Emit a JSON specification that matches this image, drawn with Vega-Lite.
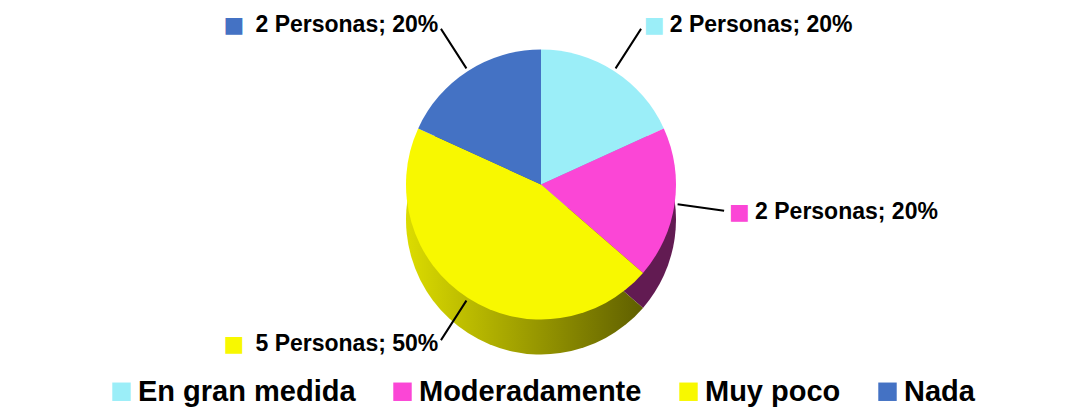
{
  "$schema": "https://vega.github.io/schema/vega-lite/v6.json",
  "width": 1082,
  "height": 407,
  "autosize": {"type": "fit", "contains": "padding"},
  "padding": 0,
  "background": "white",
  "config": {
    "view": {"stroke": null},
    "font": "Liberation Sans",
    "legend": {"layout": {"anchor": "middle", "bottom": {"anchor": "middle"}}}
  },
  "data": {
    "values": [
      {"cat": "En gran medida", "n": 2, "label": "2 Personas; 20%"},
      {"cat": "Moderadamente", "n": 2, "label": "2 Personas; 20%"},
      {"cat": "Muy poco", "n": 5, "label": "5 Personas; 50%"},
      {"cat": "Nada", "n": 2, "label": "2 Personas; 20%"}
    ]
  },
  "encoding": {
    "theta": {"field": "n", "type": "quantitative", "stack": true},
    "order": {"field": "cat", "type": "ordinal", "sort": "ascending"}
  },
  "resolve": {"scale": {"color": "independent"}, "legend": {"color": "independent"}},
  "layer": [
    {
      "mark": {"type": "arc", "radius": 135, "yOffset": 35},
      "encoding": {
        "color": {
          "field": "cat",
          "type": "nominal",
          "condition": {
            "test": "datum.cat === 'Muy poco'",
            "value": {"gradient": "linear", "x1": 0, "x2": 1, "y1": 0, "y2": 0,
              "stops": [{"offset": 0, "color": "#dcdc00"}, {"offset": 1, "color": "#5f5f00"}]}
          },
          "scale": {"domain": ["En gran medida", "Moderadamente", "Muy poco", "Nada"], "range": ["#5cc0cc", "#621b52", "#8f8f00", "#2c4c8c"]},
          "legend": null
        }
      }
    },
    {
      "mark": {"type": "arc", "radius": 135},
      "encoding": {
        "color": {
          "field": "cat",
          "type": "nominal",
          "scale": {"domain": ["En gran medida", "Moderadamente", "Muy poco", "Nada"], "range": ["#9beef8", "#fb46d6", "#f8f800", "#4472c4"]},
          "legend": {
            "orient": "bottom",
            "direction": "horizontal",
            "title": null,
            "symbolType": "square",
            "symbolSize": 340,
            "symbolStrokeWidth": 0,
            "labelFontSize": 29,
            "labelFontWeight": "bold",
            "labelFont": "Liberation Sans",
            "labelColor": "black",
            "labelLimit": 400,
            "columnPadding": 32,
            "labelOffset": 2,
            "offset": 8
          }
        }
      }
    },
    {
      "mark": {"type": "arc", "radius": 185, "radius2": 138, "padAngle": 3, "filled": false, "stroke": "black", "strokeWidth": 2}
    },
    {
      "mark": {"type": "text", "radius": 190, "align": "left", "baseline": "middle", "fontSize": 22, "font": "DejaVu Sans"},
      "encoding": {
        "text": {"condition": {"test": "datum.cat === 'En gran medida' || datum.cat === 'Moderadamente'", "value": "■"}, "value": ""},
        "color": {"field": "cat", "type": "nominal", "legend": null,
          "scale": {"domain": ["En gran medida", "Moderadamente", "Muy poco", "Nada"], "range": ["#9beef8", "#fb46d6", "#f8f800", "#4472c4"]}}
      }
    },
    {
      "mark": {"type": "text", "radius": 190, "align": "left", "baseline": "middle", "fontSize": 23, "fontWeight": "bold", "dx": 26, "color": "black"},
      "encoding": {
        "text": {"condition": {"test": "datum.cat === 'En gran medida' || datum.cat === 'Moderadamente'", "field": "label"}, "value": ""}
      }
    },
    {
      "mark": {"type": "text", "radius": 190, "align": "right", "baseline": "middle", "fontSize": 23, "fontWeight": "bold", "color": "black"},
      "encoding": {
        "text": {"condition": {"test": "datum.cat === 'Muy poco' || datum.cat === 'Nada'", "field": "label"}, "value": ""}
      }
    },
    {
      "mark": {"type": "text", "radius": 190, "align": "right", "baseline": "middle", "fontSize": 22, "font": "DejaVu Sans", "dx": -194},
      "encoding": {
        "text": {"condition": {"test": "datum.cat === 'Muy poco' || datum.cat === 'Nada'", "value": "■"}, "value": ""},
        "color": {"field": "cat", "type": "nominal", "legend": null,
          "scale": {"domain": ["En gran medida", "Moderadamente", "Muy poco", "Nada"], "range": ["#9beef8", "#fb46d6", "#f8f800", "#4472c4"]}}
      }
    }
  ]
}
